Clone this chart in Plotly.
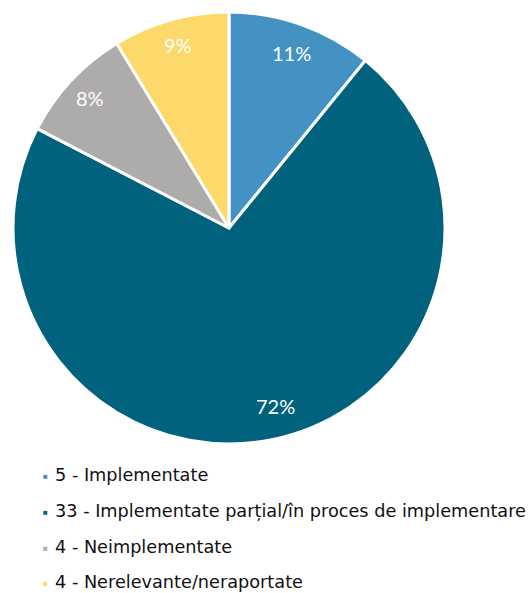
import math
import plotly.graph_objects as go

labels = ["5 - Implementate",
          "33 - Implementate parțial/în proces de implementare",
          "4 - Neimplementate",
          "4 - Nerelevante/neraportate"]
values = [5, 33, 4, 4]
pct_text = ["11%", "72%", "8%", "9%"]
colors = ["#4491C4", "#00627C", "#AEABAB", "#FDD86A"]

W, H = 529, 593
cx, cy, R = 229, 228, 216

fig = go.Figure(go.Pie(
    labels=labels, values=values, sort=False, direction="clockwise", rotation=0,
    marker=dict(colors=colors, line=dict(color="white", width=3)),
    textinfo="none", hoverinfo="label+percent",
    domain=dict(x=[(cx - R) / W, (cx + R) / W], y=[1 - (cy + R) / H, 1 - (cy - R) / H]),
    showlegend=False,
))

# percentage labels placed near the outer edge along each slice
total = sum(values)
angle_shift = [0, -3, 0, 0]
rad_frac = [0.86, 0.85, 0.88, 0.88]
annotations = []
cum = 0
for v, t, sh, rf in zip(values, pct_text, angle_shift, rad_frac):
    mid = (cum + v / 2) / total * 360 + sh
    cum += v
    r = rf * R
    px = cx + r * math.sin(math.radians(mid))
    py = cy - r * math.cos(math.radians(mid))
    annotations.append(dict(x=px / W, y=1 - py / H, xref="paper", yref="paper",
                            xanchor="center", yanchor="middle",
                            text=t, showarrow=False,
                            font=dict(family="Lato", size=20, color="white")))

# legend
leg_y = [475, 511, 547, 582]
for lab, col, ly in zip(labels, colors, leg_y):
    annotations.append(dict(x=45 / W, y=1 - ly / H, xref="paper", yref="paper",
                            text="■", showarrow=False, xanchor="center", yanchor="middle",
                            font=dict(size=8, color=col)))
    annotations.append(dict(x=53 / W, y=1 - ly / H, xref="paper", yref="paper",
                            text=lab, showarrow=False, xanchor="left", yanchor="middle",
                            font=dict(family="DejaVu Sans", size=17.7, color="#111111")))

fig.update_layout(width=W, height=H, margin=dict(l=0, r=0, t=0, b=0),
                  paper_bgcolor="white", plot_bgcolor="white",
                  annotations=annotations)

fig.write_html("out.html")
